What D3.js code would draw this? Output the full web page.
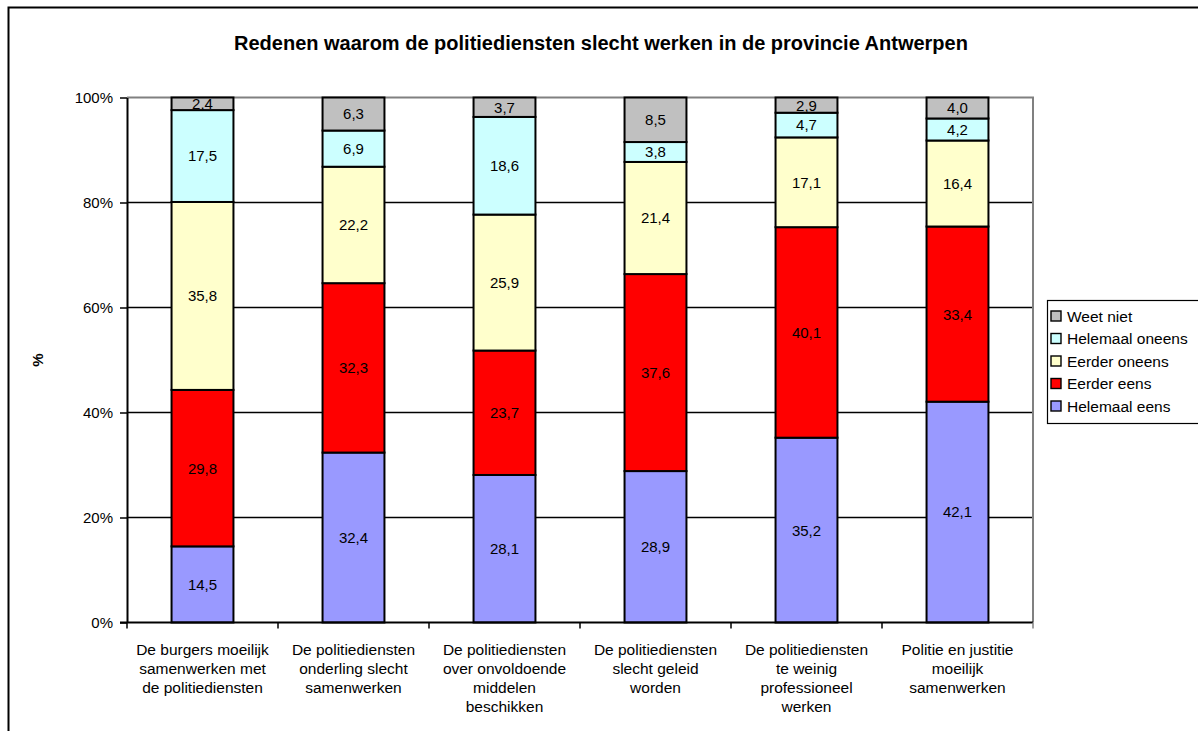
<!DOCTYPE html>
<html><head><meta charset="utf-8">
<script src="https://cdn.jsdelivr.net/npm/d3@7"></script>
<style>body{margin:0;background:#fff}svg{display:block;font-family:"Liberation Sans",Arial,sans-serif}</style>
</head><body>
<svg id="c" width="1198" height="731"></svg>
<script>
const categories = [
  ["De burgers moeilijk","samenwerken met","de politiediensten"],
  ["De politiediensten","onderling slecht","samenwerken"],
  ["De politiediensten","over onvoldoende","middelen","beschikken"],
  ["De politiediensten","slecht geleid","worden"],
  ["De politiediensten","te weinig","professioneel","werken"],
  ["Politie en justitie","moeilijk","samenwerken"]
];
const seriesNames = ["Helemaal eens","Eerder eens","Eerder oneens","Helemaal oneens","Weet niet"];
const seriesColors = ["#9999FF","#FF0000","#FFFFCC","#CCFFFF","#C0C0C0"];
const helemaalEens   = [14.5, 32.4, 28.1, 28.9, 35.2, 42.1];
const eerderEens     = [29.8, 32.3, 23.7, 37.6, 40.1, 33.4];
const eerderOneens   = [35.8, 22.2, 25.9, 21.4, 17.1, 16.4];
const helemaalOneens = [17.5, 6.9, 18.6, 3.8, 4.7, 4.2];
const weetNiet       = [2.4, 6.3, 3.7, 8.5, 2.9, 4.0];
const yTicks = [0, 20, 40, 60, 80, 100];
const title = "Redenen waarom de politiediensten slecht werken in de provincie Antwerpen";

const values = [helemaalEens, eerderEens, eerderOneens, helemaalOneens, weetNiet];
const svg = d3.select("#c");
const L = 127, R = 1033, T = 97.5, B = 622.5;

svg.append("rect").attr("x",8.5).attr("y",7.5).attr("width",1300).attr("height",800)
  .attr("fill","none").attr("stroke","#000").attr("stroke-width",2);

svg.append("text").attr("x",601).attr("y",50).attr("text-anchor","middle")
  .attr("font-weight","bold").attr("font-size",20).text(title);

const x = d3.scaleBand().domain(d3.range(categories.length)).range([L,R]).padding(0);
const y = d3.scaleLinear().domain([0,100]).range([B,T]);

// plot area border (gray top/right)
svg.append("path").attr("d",`M${L},${T}H${R}V${B}`).attr("fill","none").attr("stroke","#808080").attr("stroke-width",2);

// gridlines
svg.append("g").selectAll("line").data(yTicks.filter(t=>t>0&&t<100)).join("line")
  .attr("x1",L).attr("x2",R-1).attr("y1",d=>y(d)).attr("y2",d=>y(d))
  .attr("stroke","#000").attr("stroke-width",1.3);

// stacked, normalized
const bw = x.bandwidth()*0.41;
const g = svg.append("g");
const lg = svg.append("g");
const stacks = categories.map((c,i)=>{
  const total = d3.sum(values, s=>s[i]);
  let acc = 0;
  return values.map((s,k)=>{
    const v0 = acc/total*100; acc += s[i]; const v1 = acc/total*100;
    return {i,k,v0,v1,val:s[i]};
  });
}).flat();
g.selectAll("rect").data(stacks).join("rect")
  .attr("x",d=>x(d.i)+x.bandwidth()/2-bw/2).attr("y",d=>y(d.v1)).attr("width",bw).attr("height",d=>y(d.v0)-y(d.v1))
  .attr("fill",d=>seriesColors[d.k]).attr("stroke","#000").attr("stroke-width",2);
lg.selectAll("text").data(stacks).join("text")
  .attr("x",d=>x(d.i)+x.bandwidth()/2).attr("y",d=>(y(d.v0)+y(d.v1))/2).attr("dy","0.36em")
  .attr("text-anchor","middle").attr("font-size",15).attr("fill","#000")
  .text(d=>d3.format(".1f")(d.val).replace(".",","));

// y axis
const ya = svg.append("g").attr("transform",`translate(${L},0)`)
  .call(d3.axisLeft(y).tickValues(yTicks).tickFormat(d=>d+"%").tickSize(7).tickSizeOuter(0));
ya.select(".domain").attr("stroke","#000").attr("stroke-width",2);
ya.selectAll(".tick line").attr("stroke","#000").attr("stroke-width",1.5);
ya.selectAll("text").attr("font-size",15).attr("font-family","Liberation Sans, Arial, sans-serif").attr("x",-14).attr("fill","#000");

// x axis
svg.append("line").attr("x1",L-7).attr("x2",R).attr("y1",B).attr("y2",B).attr("stroke","#000").attr("stroke-width",2);
svg.append("g").selectAll("line").data(d3.range(categories.length+1)).join("line")
  .attr("x1",d=>L+d*x.bandwidth()).attr("x2",d=>L+d*x.bandwidth()).attr("y1",B).attr("y2",B+6)
  .attr("stroke",(d)=>d===categories.length?"#808080":"#000").attr("stroke-width",1.5);
const xl = svg.append("g");
categories.forEach((lines,i)=>{
  const t = xl.append("text").attr("text-anchor","middle").attr("font-size",15.5).attr("fill","#000");
  lines.forEach((ln,j)=>{
    t.append("tspan").attr("x",x(i)+x.bandwidth()/2).attr("y",655+j*19).text(ln);
  });
});

// y label
svg.append("text").attr("transform","translate(43,360) rotate(-90)").attr("text-anchor","middle")
  .attr("font-weight","bold").attr("font-size",15).text("%");

// legend
const lx = 1047, ly = 300;
svg.append("rect").attr("x",lx+0.5).attr("y",ly+0.5).attr("width",160).attr("height",123)
  .attr("fill","#fff").attr("stroke","#000").attr("stroke-width",1.2);
const order = [4,3,2,1,0];
order.forEach((k,j)=>{
  const yy = ly + 16 + j*22.5;
  svg.append("rect").attr("x",lx+4).attr("y",yy-5).attr("width",10).attr("height",10)
    .attr("fill",seriesColors[k]).attr("stroke","#000").attr("stroke-width",1.4);
  svg.append("text").attr("x",lx+20).attr("y",yy).attr("dy","0.36em").attr("font-size",15.5).text(seriesNames[k]);
});
</script>
</body></html>
